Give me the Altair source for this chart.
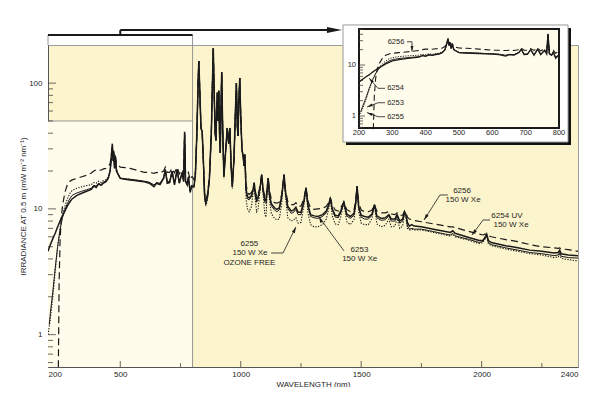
import altair as alt
import pandas as pd

# ---------------- data ----------------
wavelength = [
    200, 205, 210, 220, 230, 240, 243, 246, 250, 255,
    260, 270, 280, 290, 300, 320, 340, 360, 380, 390,
    400, 410, 420, 430, 440, 450, 458, 462, 467, 470,
    473, 476, 480, 484, 490, 500, 520, 540, 560, 580,
    600, 620, 640, 650, 665, 680, 687, 695, 705, 715,
    725, 736, 745, 757, 763, 767, 771, 778, 783, 790,
    796, 800, 806, 812, 818, 823, 826, 830, 835, 840,
    845, 850, 855, 862, 870, 878, 882, 886, 890, 894,
    897, 900, 903, 906, 909, 912, 915, 918, 921, 925,
    930, 937, 944, 950, 955, 960, 965, 972, 978, 982,
    986, 989, 992, 996, 1000, 1005, 1010, 1014, 1017, 1022,
    1028, 1035, 1045, 1052, 1056, 1060, 1066, 1072, 1080, 1087,
    1093, 1100, 1105, 1110, 1114, 1119, 1127, 1140, 1150, 1160,
    1170, 1176, 1180, 1185, 1195, 1210, 1220, 1229, 1238, 1250,
    1262, 1271, 1279, 1290, 1305, 1320, 1340, 1355, 1365, 1372,
    1380, 1392, 1405, 1415, 1428, 1440, 1455, 1470, 1477, 1483,
    1490, 1500, 1514, 1530, 1545, 1555, 1565, 1583, 1600, 1615,
    1625, 1640, 1649, 1660, 1672, 1680, 1686, 1692, 1700, 1710,
    1720, 1750, 1800, 1850, 1870, 1880, 1890, 1950, 1990, 2005,
    2015, 2021, 2028, 2040, 2100, 2150, 2200, 2250, 2300, 2318,
    2324, 2330, 2360, 2400,
]

lamp_6256 = [  # dashed, 150 W Xe
    None, None, None, None, None, None, 0.55, 2.5, 5.5, 8.5,
    10.5, 13.5, 15.5, 16.5, 17.0, 17.5, 18.0, 18.5, 19.3, 20.0,
    20.5, 20.5, 20.3, 20.8, 21.0, 21.5, 23.0, 26.0, 32.0, 27.0,
    29.0, 25.0, 26.0, 23.0, 22.5, 21.5, 21.3, 21.0, 20.5, 20.0,
    19.5, 19.5, 19.2, 19.5, 19.3, 20.0, 21.5, 19.5, 19.5, 21.0,
    19.3, 21.5, 19.0, 20.5, 19.0, 40.0, 19.0, 18.8, 19.5, 17.0,
    18.0, 18.0, 17.0, 20.0, 40.0, 100, 150, 88, 44, 41,
    24, 13.5, 12.0, 13.0, 18.0, 40, 90, 189, 80, 40,
    35, 60, 84, 50, 87, 40, 28, 60, 122, 45,
    19.0, 28, 44, 33, 44, 22, 15.5, 25, 60, 100,
    45, 38, 70, 110, 55, 30, 26, 22, 27, 16.0,
    13.5, 13.0, 13.5, 15.0, 16.1, 14.0, 12.5, 13.0, 15.0, 18.7,
    14.5, 12.5, 12.2, 15.0, 17.6, 14.0, 12.0, 11.2, 11.1, 11.3,
    13.0, 16.0, 18.7, 14.5, 11.5, 10.8, 10.8, 11.2, 10.5, 10.5,
    12.0, 14.7, 11.5, 10.2, 9.9, 10.0, 10.1, 10.5, 11.2, 12.2,
    10.8, 9.8, 9.6, 10.2, 11.3, 9.9, 9.5, 9.8, 11.5, 15.1,
    11.0, 9.8, 9.5, 9.5, 9.8, 10.8, 9.6, 9.3, 9.3, 9.5,
    9.1, 9.0, 9.3, 8.9, 8.9, 9.6, 9.3, 8.6, 8.3, 8.2,
    8.1, 7.9, 7.6, 7.3, 7.2, 7.2, 7.1, 6.6, 6.3, 6.2,
    6.3, 6.3, 6.1, 6.0, 5.7, 5.5, 5.2, 5.0, 4.9, 4.85,
    4.9, 4.8, 4.75, 4.6,
]

lamp_6254 = [  # solid (heavy), 6254 UV 150 W Xe
    4.6, 4.9, 5.2, 5.8, 6.4, 7.2, 7.4, 7.7, 8.0, 8.4,
    8.8, 9.6, 10.5, 11.3, 12.0, 12.8, 13.3, 13.8, 14.3, 15.2,
    14.8, 15.8, 15.4, 16.0, 16.4, 17.5, 20.0, 25.0, 33.0, 24.0,
    28.0, 21.0, 26.0, 20.0, 19.0, 17.5, 17.2, 17.0, 16.8, 16.6,
    16.4, 16.0, 15.0, 16.0, 15.6, 17.5, 20.5, 16.0, 16.2, 20.0,
    15.5, 20.5, 16.0, 19.5, 16.5, 41.0, 16.5, 15.5, 18.0, 13.5,
    15.0, 15.0, 15.0, 19.0, 40.0, 100, 150, 88, 44, 41,
    24, 13.0, 11.2, 12.5, 17.5, 40, 90, 189, 80, 40,
    35, 60, 84, 50, 87, 40, 28, 60, 122, 45,
    18.0, 28, 44, 33, 44, 22, 15.0, 25, 60, 100,
    45, 38, 70, 110, 55, 30, 26, 22, 27, 14.5,
    12.5, 12.2, 12.8, 14.5, 16.1, 13.5, 11.8, 12.5, 14.5, 18.7,
    14.0, 11.8, 11.6, 14.5, 17.6, 13.0, 11.0, 10.2, 9.9, 10.2,
    12.5, 16.0, 18.7, 14.0, 10.5, 9.6, 9.8, 10.3, 9.4, 9.4,
    11.5, 14.7, 10.8, 9.0, 8.8, 8.7, 9.0, 9.6, 10.8, 12.2,
    10.0, 8.9, 8.8, 9.6, 11.3, 9.1, 8.7, 9.2, 11.0, 15.1,
    10.3, 8.9, 8.7, 8.6, 9.1, 10.8, 8.8, 8.4, 8.5, 9.0,
    8.3, 8.3, 9.0, 8.0, 8.3, 9.5, 9.0, 7.8, 7.3, 7.5,
    7.3, 7.2, 6.9, 6.6, 6.5, 6.7, 6.4, 5.9, 5.6, 5.6,
    6.0, 6.3, 5.6, 5.4, 5.1, 4.9, 4.7, 4.6, 4.45, 4.5,
    4.7, 4.4, 4.3, 4.24,
]

lamp_6253 = [  # solid (thin), 150 W Xe
    None, 1.2, 1.5, 2.2, 3.4, 5.0, 5.5, 6.0, 6.8, 7.6,
    8.5, 9.8, 11.0, 12.0, 12.8, 13.4, 13.8, 14.2, 14.6, 15.4,
    15.2, 16.0, 15.6, 16.4, 16.6, 17.8, 20.0, 24.0, 31.0, 25.0,
    27.0, 22.0, 25.0, 21.0, 19.0, 17.5, 17.3, 17.2, 17.0, 16.8,
    16.6, 16.3, 15.5, 16.2, 16.0, 17.8, 20.5, 16.5, 16.5, 20.0,
    16.0, 20.5, 16.3, 19.5, 16.8, 40.0, 16.8, 16.0, 18.0, 14.0,
    15.5, 15.2, 15.0, 19.0, 40.0, 100, 150, 88, 44, 41,
    24, 12.5, 10.8, 12.2, 17.0, 40, 90, 189, 80, 40,
    35, 60, 84, 50, 87, 40, 28, 60, 122, 45,
    18.0, 28, 44, 33, 44, 22, 15.0, 25, 60, 100,
    45, 38, 70, 110, 55, 30, 26, 22, 27, 14.0,
    12.0, 11.8, 12.5, 14.5, 16.1, 13.0, 11.3, 12.0, 14.5, 18.7,
    14.0, 11.3, 11.0, 14.5, 17.6, 13.0, 10.6, 9.8, 9.5, 9.8,
    12.5, 16.0, 18.7, 14.0, 10.1, 9.2, 9.4, 9.9, 9.0, 9.0,
    11.3, 14.7, 10.5, 8.7, 8.5, 8.4, 8.7, 9.3, 10.6, 12.2,
    9.8, 8.6, 8.5, 9.3, 11.3, 8.8, 8.4, 8.9, 11.0, 15.1,
    10.1, 8.6, 8.3, 8.3, 8.9, 10.8, 8.5, 8.1, 8.2, 8.8,
    8.0, 8.0, 8.8, 7.7, 8.0, 9.4, 8.8, 7.3, 6.9, 7.0,
    6.9, 6.9, 6.6, 6.3, 6.2, 6.4, 6.1, 5.7, 5.4, 5.5,
    5.9, 6.2, 5.4, 5.2, 4.9, 4.7, 4.5, 4.4, 4.25, 4.3,
    4.5, 4.2, 4.1, 4.06,
]

lamp_6255 = [  # dotted, 150 W Xe ozone free
    1.0, 1.15, 1.35, 2.0, 3.2, 5.0, 5.5, 6.0, 7.0, 8.0,
    9.0, 10.5, 12.0, 13.2, 14.0, 14.6, 15.0, 15.3, 15.6, 16.2,
    16.0, 16.6, 16.2, 16.8, 17.0, 18.0, 20.0, 24.0, 30.0, 24.0,
    26.0, 21.0, 24.0, 20.0, 19.0, 17.6, 17.4, 17.2, 17.0, 16.8,
    16.5, 16.2, 15.4, 16.0, 15.8, 17.4, 20.0, 16.2, 16.3, 19.5,
    15.8, 20.0, 16.0, 19.0, 16.5, 39.0, 16.5, 15.6, 17.6, 13.8,
    15.0, 14.8, 15.0, 19.0, 40.0, 100, 150, 88, 44, 41,
    23, 12.0, 10.5, 12.0, 17.0, 40, 90, 189, 80, 40,
    35, 60, 84, 50, 87, 40, 28, 60, 122, 45,
    17.5, 28, 44, 33, 44, 22, 14.5, 25, 60, 100,
    45, 38, 70, 110, 55, 30, 26, 22, 27, 12.0,
    10.0, 9.5, 10.5, 14.0, 16.1, 12.0, 9.5, 10.0, 14.0, 18.7,
    13.0, 9.0, 8.6, 14.0, 17.6, 12.0, 9.2, 8.4, 8.2, 8.3,
    11.0, 15.5, 18.7, 13.0, 8.5, 8.0, 8.2, 8.5, 7.7, 7.8,
    10.5, 14.7, 9.3, 7.5, 7.2, 7.2, 7.5, 8.3, 10.0, 12.2,
    8.8, 7.6, 7.5, 8.6, 11.3, 7.9, 7.5, 8.2, 10.5, 15.1,
    9.4, 7.7, 7.5, 7.5, 8.4, 10.8, 7.6, 7.2, 7.4, 8.3,
    7.2, 7.3, 8.4, 7.0, 7.3, 9.2, 8.5, 7.0, 6.8, 6.9,
    6.8, 6.8, 6.5, 6.2, 6.1, 6.3, 6.0, 5.6, 5.3, 5.4,
    5.8, 6.1, 5.3, 5.1, 4.8, 4.6, 4.4, 4.3, 4.1, 4.15,
    4.35, 4.05, 3.95, 3.85,
]

x_labels = [200, 500, 1000, 1500, 2000, 2400]
x_minor = [750, 1250, 1750, 2250]
y_labels = [1, 10, 100]
y_minor = [0.6, 0.7, 0.8, 0.9, 2, 3, 4, 5, 6, 7, 8, 9, 20, 30, 40, 50, 60, 70, 80, 90]
inset_x_labels = [200, 300, 400, 500, 600, 700, 800]
inset_y_labels = [1, 10]
inset_y_minor = [0.6, 0.7, 0.8, 0.9, 2, 3, 4, 5, 6, 7, 8, 9, 20, 30, 40, 50]

# ---------------- build tables ----------------
series = {"6256": lamp_6256, "6254": lamp_6254, "6253": lamp_6253, "6255": lamp_6255}
df = pd.DataFrame([
    {"wl": w, "v": v, "lamp": k}
    for k, vals in series.items()
    for w, v in zip(wavelength, vals) if v is not None
])
df_in = df[df.wl <= 800]

FONT = "Liberation Sans"
INK = "#1a1a1a"
TXT = "#262626"

XS = alt.Scale(domain=[200, 2400], nice=False, zero=False)
YS = alt.Scale(type="log", domain=[0.553, 201], nice=False)
XA = alt.Axis(values=x_labels, title="WAVELENGTH (nm)", format="d", labelPadding=3, titlePadding=2,
              ticks=False, tickSize=0, grid=False)
YA = alt.Axis(values=y_labels, title="IRRADIANCE AT 0.5 m (mW m⁻² nm⁻¹)", format="~g",
              labelPadding=6, titlePadding=1, ticks=False, tickSize=0, grid=False)

XI = alt.Scale(domain=[200, 800], range=[311, 511], nice=False, zero=False)
YI = alt.Scale(type="log", domain=[0.582, 50.8], range=[83, -16], nice=False)


def mx(f="wl"):
    return alt.X(f"{f}:Q", scale=XS, axis=XA)


def my(f="v"):
    return alt.Y(f"{f}:Q", scale=YS, axis=YA)


def ix(f="wl"):
    return alt.X(f"{f}:Q", scale=XI, axis=None)


def iy(f="v"):
    return alt.Y(f"{f}:Q", scale=YI, axis=None)


def segs(rows):
    return pd.DataFrame(rows, columns=["wl", "wl2", "v", "v2"])


# ---------------- main panel ----------------
light_rect = alt.Chart(segs([[200, 800, 0.553, 50]])).mark_rect(fill="#FFFCEB").encode(
    x=mx(), x2="wl2:Q", y=my(), y2="v2:Q")

gray_rules = alt.Chart(segs([
    [200, 800, 50, 50],
    [800, 800, 0.553, 241],
    [200, 200, 201, 241],
])).mark_rule(color="#8a8a8a", strokeWidth=0.9).encode(x=mx(), x2="wl2:Q", y=my(), y2="v2:Q")

bracket = alt.Chart(segs([
    [200, 800, 241, 241],
    [500, 500, 241, 264],
    [500, 1385, 264, 264],
])).mark_rule(color=INK, strokeWidth=2).encode(x=mx(), x2="wl2:Q", y=my(), y2="v2:Q")

big_arrow = alt.Chart(pd.DataFrame({"wl": [1389], "v": [264]})).mark_point(
    shape="M-1,-0.4L1,0L-1,0.4Z", size=225, filled=True, color=INK, opacity=1, strokeWidth=0
).encode(x=mx(), y=my())

tick_rows = ([[200, 233, t, t] for t in y_labels] + [[200, 220.8, t, t] for t in y_minor]
             + [[t, t, 0.553, 0.617] for t in x_labels[1:-1]] + [[t, t, 0.553, 0.594] for t in x_minor])
main_ticks = alt.Chart(segs(tick_rows)).mark_rule(color="#444", strokeWidth=0.8).encode(
    x=mx(), x2="wl2:Q", y=my(), y2="v2:Q")

styles = {
    "6256": dict(strokeWidth=1.2, strokeDash=[7, 4]),
    "6255": dict(strokeWidth=1.1, strokeDash=[1.3, 1.4]),
    "6253": dict(strokeWidth=1.0),
    "6254": dict(strokeWidth=1.5),
}
main_lines = [
    alt.Chart(df[df.lamp == k]).mark_line(clip=True, color=INK, **st).encode(x=mx(), y=my())
    for k, st in styles.items()
]

main_text = pd.DataFrame({
    "wl": [1918.6, 1923, 2105, 2122, 1036, 1038.5, 1036, 1493, 1494],
    "v": [13.9, 11.7, 8.83, 7.45, 5.23, 4.44, 3.73, 4.71, 3.97],
    "t": ["6256", "150 W Xe", "6254 UV", "150 W Xe", "6255", "150 W Xe", "OZONE FREE", "6253", "150 W Xe"],
})
main_labels = alt.Chart(main_text).mark_text(font=FONT, fontSize=8, color=TXT, align="center",
                                             baseline="middle").encode(x=mx(), y=my(), text="t:N")

main_leaders = alt.Chart(segs([
    [1860, 1827, 12.9, 12.9], [1827, 1761, 12.9, 8.16],
    [2035, 2006, 8.16, 8.16], [2006, 1960, 8.16, 6.2],
    [1126, 1175.5, 4.46, 4.46], [1175.5, 1229, 4.46, 7.18],
    [1428.7, 1325, 4.63, 8.63],
])).mark_rule(color=INK, strokeWidth=0.8).encode(x=mx(), x2="wl2:Q", y=my(), y2="v2:Q")

HEAD = "M0,-1L0.55,1L-0.55,1Z"
main_heads = alt.Chart(pd.DataFrame({
    "wl": [1767.5, 1967.6, 1224, 1330.8],
    "v": [8.54, 6.48, 6.83, 8.21],
    "ang": [212.6, 216.3, 26.6, 332.8],
})).mark_point(shape=HEAD, size=36, filled=True, color=INK, opacity=1, strokeWidth=0).encode(
    x=mx(), y=my(), angle=alt.Angle("ang:Q", scale=None))

main = alt.layer(light_rect, gray_rules, bracket, big_arrow, main_ticks, *main_lines,
                 main_leaders, main_heads, main_labels)

# ---------------- inset panel ----------------
shadow = alt.Chart(segs([[161, 836, 0.27, 53.1]])).mark_rect(fill="#111111").encode(
    x=ix(), x2="wl2:Q", y=iy(), y2="v2:Q")
box = alt.Chart(segs([[152, 827, 0.309, 60.9]])).mark_rect(
    fill="#FFFFFF", stroke="#9a9a9a", strokeWidth=1).encode(x=ix(), x2="wl2:Q", y=iy(), y2="v2:Q")
inner = alt.Chart(segs([[200, 800, 0.582, 50.8]])).mark_rect(
    fill="#FFFCEB", stroke=INK, strokeWidth=2).encode(x=ix(), x2="wl2:Q", y=iy(), y2="v2:Q")

inset_tick_rows = [[200, 218, t, t] for t in inset_y_labels] + [[200, 212, t, t] for t in inset_y_minor]
inset_ticks = alt.Chart(segs(inset_tick_rows)).mark_rule(color="#444", strokeWidth=0.8).encode(
    x=ix(), x2="wl2:Q", y=iy(), y2="v2:Q")

inset_styles = {
    "6256": dict(strokeWidth=1.1, strokeDash=[6, 3.5]),
    "6255": dict(strokeWidth=1.0, strokeDash=[1.2, 1.3]),
    "6253": dict(strokeWidth=0.9),
    "6254": dict(strokeWidth=1.3),
}
inset_lines = [
    alt.Chart(df_in[df_in.lamp == k]).mark_line(clip=False, color=INK, **st).encode(x=ix(), y=iy())
    for k, st in inset_styles.items()
]

inset_axis_text = pd.DataFrame({
    "wl": [191, 191] + inset_x_labels,
    "v": [10, 1] + [0.464] * len(inset_x_labels),
    "t": ["10", "1"] + [str(x) for x in inset_x_labels],
    "al": ["right", "right"] + ["center"] * len(inset_x_labels),
})
inset_axis_labels_r = alt.Chart(inset_axis_text[inset_axis_text.al == "right"]).mark_text(
    font=FONT, fontSize=7.5, color=TXT, align="right", baseline="middle").encode(x=ix(), y=iy(), text="t:N")
inset_axis_labels_c = alt.Chart(inset_axis_text[inset_axis_text.al == "center"]).mark_text(
    font=FONT, fontSize=7.5, color=TXT, align="center", baseline="middle").encode(x=ix(), y=iy(), text="t:N")

inset_ann = alt.Chart(pd.DataFrame({
    "wl": [311, 309.5, 309.5, 309.5],
    "v": [28.6, 3.49, 1.82, 0.969],
    "t": ["6256", "6254", "6253", "6255"],
})).mark_text(font=FONT, fontSize=7.5, color=TXT, align="center", baseline="middle").encode(
    x=ix(), y=iy(), text="t:N")

inset_leaders = alt.Chart(segs([
    [344, 359, 28.6, 28.6], [359, 359, 28.6, 18.2],
    [278, 257, 3.49, 3.49], [257, 230, 3.49, 5.56],
    [278, 257, 1.82, 1.82], [257, 224, 1.82, 1.50],
    [278, 257, 0.969, 0.969], [257, 224, 0.969, 1.17],
])).mark_rule(color=INK, strokeWidth=0.8).encode(x=ix(), x2="wl2:Q", y=iy(), y2="v2:Q")

inset_heads = alt.Chart(pd.DataFrame({
    "wl": [359, 236, 232.4, 232.4],
    "v": [20.9, 5.01, 1.58, 1.115],
    "ang": [180, 318.9, 248.7, 290.9],
})).mark_point(shape=HEAD, size=28, filled=True, color=INK, opacity=1, strokeWidth=0).encode(
    x=ix(), y=iy(), angle=alt.Angle("ang:Q", scale=None))

inset = alt.layer(shadow, box, inner, inset_ticks, *inset_lines, inset_leaders, inset_heads,
                  inset_axis_labels_r, inset_axis_labels_c, inset_ann)

chart = alt.layer(main, inset).resolve_scale(x="independent", y="independent").properties(
    width=530, height=322,
    autosize=alt.AutoSizeParams(type="none"),
    padding={"left": 40, "top": 37, "right": 14, "bottom": 20},
    background="white",
).configure_view(
    fill="#FCF4CC", stroke="#9a9a9a", strokeWidth=1
).configure_axis(
    labelFont=FONT, titleFont=FONT, labelFontSize=8, titleFontSize=8,
    labelColor=TXT, titleColor=TXT, titleFontWeight="normal",
    domainColor="#555555", domainWidth=1,
)

chart.save("out.html", embed_options={"renderer": "svg", "actions": False})
